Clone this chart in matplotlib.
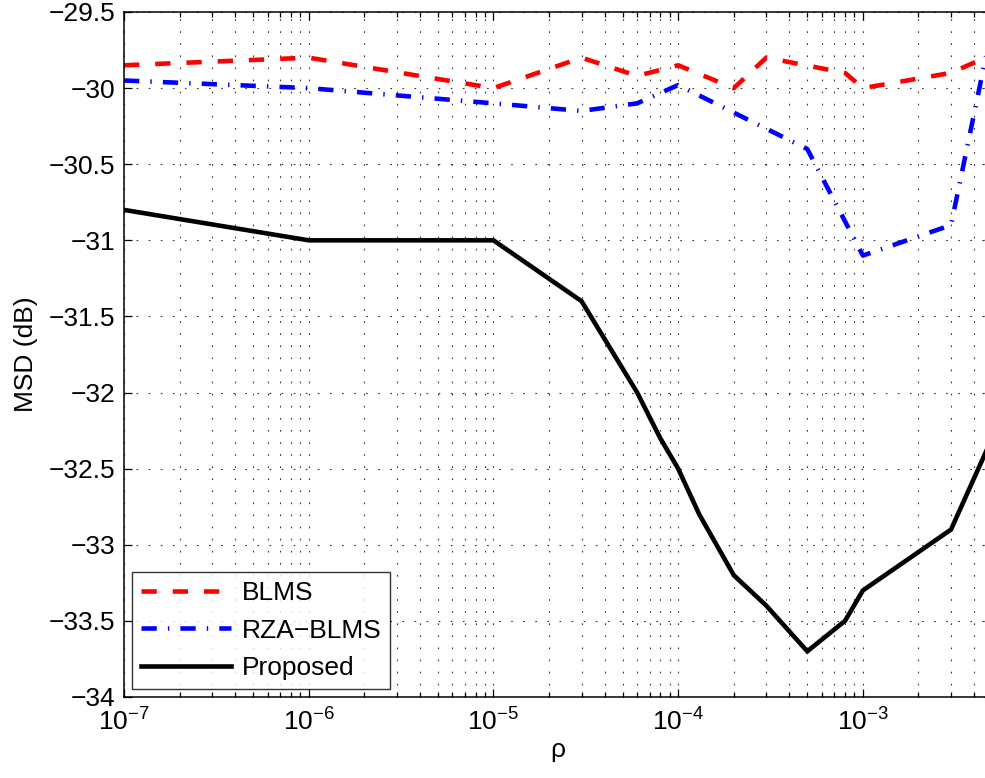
import matplotlib
matplotlib.use("Agg")
import matplotlib.pyplot as plt
from matplotlib.ticker import LogLocator, LogFormatterMathtext, FixedLocator, FuncFormatter, NullFormatter

plt.rcParams['font.family'] = ['Liberation Sans', 'DejaVu Sans']
plt.rcParams['mathtext.fontset'] = 'custom'
plt.rcParams['mathtext.rm'] = 'Liberation Sans'
plt.rcParams['mathtext.it'] = 'Liberation Sans:italic'
plt.rcParams['mathtext.bf'] = 'Liberation Sans:bold'
plt.rcParams['lines.scale_dashes'] = False

# Step-size values (rho) and steady-state MSD in dB
rho_blms = [1e-7, 1e-6, 1e-5, 3e-5, 6e-5, 1e-4, 2e-4, 3e-4, 8e-4, 1e-3, 3e-3, 5e-3]
msd_blms = [-29.85, -29.8, -30.0, -29.8, -29.92, -29.85, -30.0, -29.8, -29.9, -30.0, -29.9, -29.78]

rho_rza = [1e-7, 1e-6, 1e-5, 3e-5, 6e-5, 1e-4, 5e-4, 1e-3, 3e-3, 5e-3]
msd_rza = [-29.95, -30.0, -30.1, -30.15, -30.1, -29.98, -30.4, -31.1, -30.9, -29.6]

rho_prop = [1e-7, 1e-6, 1e-5, 3e-5, 6e-5, 8e-5, 1e-4, 1.3e-4, 2e-4, 3e-4, 5e-4, 8e-4, 1e-3, 3e-3, 5e-3]
msd_prop = [-30.8, -31.0, -31.0, -31.4, -32.0, -32.3, -32.5, -32.8, -33.2, -33.4, -33.7, -33.5, -33.3, -32.9, -32.3]

labels = ['BLMS', 'RZA\u2212BLMS', 'Proposed']
y_ticks = [-34, -33.5, -33, -32.5, -32, -31.5, -31, -30.5, -30, -29.5]

FS = 19
W, H = 985, 778
fig = plt.figure(figsize=(W / 100, H / 100), dpi=100)
ax = fig.add_axes([124 / W, 81 / H, (992 - 124) / W, (697 - 12) / H])

lw = 3.3
ax.plot(rho_blms, msd_blms, color='#ff0000', lw=lw, dashes=(11, 11.5),
        dash_capstyle='butt', label=labels[0])
ax.plot(rho_rza, msd_rza, color='#0000ff', lw=lw, dashes=(11, 8, 1.0, 8),
        dash_capstyle='butt', label=labels[1])
ax.plot(rho_prop, msd_prop, color='black', lw=lw, solid_joinstyle='miter',
        label=labels[2])

ax.set_xscale('log')
ax.set_xlim(1e-7, 5e-3)
ax.set_ylim(-34, -29.5)

ax.xaxis.set_major_locator(LogLocator(base=10, numticks=20))
ax.xaxis.set_minor_locator(LogLocator(base=10, subs=range(2, 10), numticks=100))
ax.xaxis.set_major_formatter(LogFormatterMathtext())
ax.xaxis.set_minor_formatter(NullFormatter())
ax.yaxis.set_major_locator(FixedLocator(y_ticks))
ax.yaxis.set_major_formatter(FuncFormatter(lambda v, p: ('%g' % v).replace('-', '\u2212')))

ax.tick_params(which='both', direction='in', top=True, right=True, labelsize=FS, width=0.9)
ax.tick_params(which='major', length=6)
ax.tick_params(which='minor', length=3.5)
ax.tick_params(axis='x', which='major', pad=8)
ax.tick_params(axis='y', which='major', pad=6)
for s in ax.spines.values():
    s.set_linewidth(1.1)

grid_kw = dict(color='#333333', linewidth=0.8, linestyle=(0, (1.2, 7.5)))
ax.grid(which='major', axis='both', **grid_kw)
ax.grid(which='minor', axis='x', **grid_kw)

ax.set_xlabel('\u03c1', fontsize=FS, labelpad=2)
ax.set_ylabel('MSD (dB)', fontsize=FS, labelpad=8)

leg = ax.legend(loc='lower left', fontsize=FS, frameon=True, fancybox=False,
                handlelength=3.4, handletextpad=0.4, borderpad=0.35,
                labelspacing=0.5, borderaxespad=0.3, bbox_to_anchor=(0.0, 0.0))
leg.get_frame().set_edgecolor('black')
leg.get_frame().set_linewidth(1.0)

fig.savefig('out.png', dpi=100)
